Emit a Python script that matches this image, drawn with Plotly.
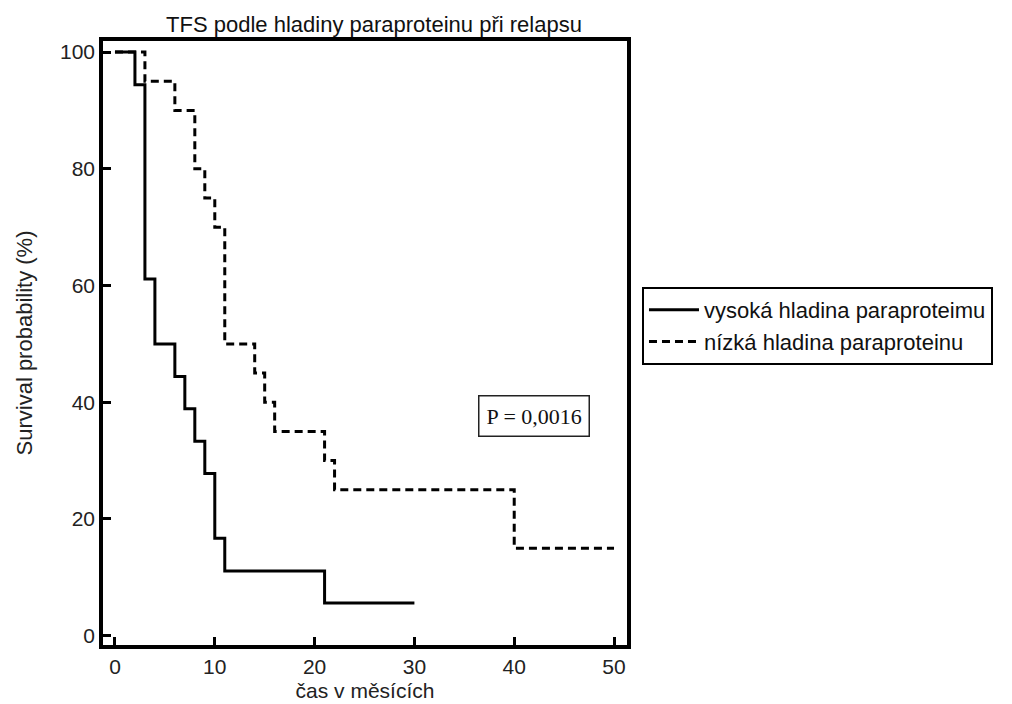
import plotly.graph_objects as go

# Kaplan-Meier step data
high_time = [0, 2, 3, 4, 6, 7, 8, 9, 10, 11, 21, 30]
high_surv = [100, 94.4, 61.1, 50, 44.4, 38.9, 33.3, 27.8, 16.7, 11.1, 5.6, 5.6]

low_time = [0, 3, 6, 8, 9, 10, 11, 14, 15, 16, 21, 22, 40, 50]
low_surv = [100, 95, 90, 80, 75, 70, 50, 45, 40, 35, 30, 25, 15, 15]

series_names = ["vysoká hladina paraproteimu", "nízká hladina paraproteinu"]
x_ticks = [0, 10, 20, 30, 40, 50]
y_ticks = [0, 20, 40, 60, 80, 100]
p_text = "P = 0,0016"

FONT = "Liberation Sans, Arial, sans-serif"

fig = go.Figure()
fig.add_trace(go.Scatter(
    x=high_time, y=high_surv, mode="lines", line_shape="hv",
    line=dict(color="black", width=3), name=series_names[0]))
fig.add_trace(go.Scatter(
    x=low_time, y=low_surv, mode="lines", line_shape="hv",
    line=dict(color="black", width=3, dash="8px,5px"), name=series_names[1]))

fig.add_annotation(
    x=42, y=37.7, xref="x", yref="y", text=p_text, showarrow=False,
    font=dict(family="Liberation Serif, Times New Roman, serif", size=22, color="#111"),
    bordercolor="#222", borderwidth=1.5, borderpad=7, bgcolor="white")

axis_common = dict(
    showline=True, linecolor="black", linewidth=3.5, mirror=True,
    ticks="inside", ticklen=8, tickwidth=2.5, tickcolor="black",
    showgrid=False, zeroline=False, automargin=False,
    tickfont=dict(family=FONT, size=21, color="#222"))

fig.update_xaxes(range=[-1.2, 51.3], tickvals=x_ticks,
                 title=dict(text="čas v měsících", font=dict(family=FONT, size=21, color="#222"), standoff=7),
                 **axis_common)
fig.update_yaxes(range=[-1.6, 101.9], tickvals=y_ticks,
                 title=dict(text="Survival probability (%)", font=dict(family=FONT, size=22, color="#222"), standoff=22),
                 **axis_common)

fig.update_layout(
    width=1012, height=704,
    margin=dict(l=103, r=385, t=41, b=59),
    paper_bgcolor="white", plot_bgcolor="white",
    title=dict(text="TFS podle hladiny paraproteinu při relapsu",
               x=374 / 1012, xanchor="center", y=1 - 24 / 704, yanchor="middle",
               font=dict(family=FONT, size=22, color="#111")),
    legend=dict(x=1.0286, y=0.5927, xanchor="left", yanchor="top",
                bordercolor="black", borderwidth=2, bgcolor="white",
                font=dict(family=FONT, size=22, color="#111"),
                tracegroupgap=0, itemwidth=50),
    showlegend=True,
)

fig.write_html("out.html")
